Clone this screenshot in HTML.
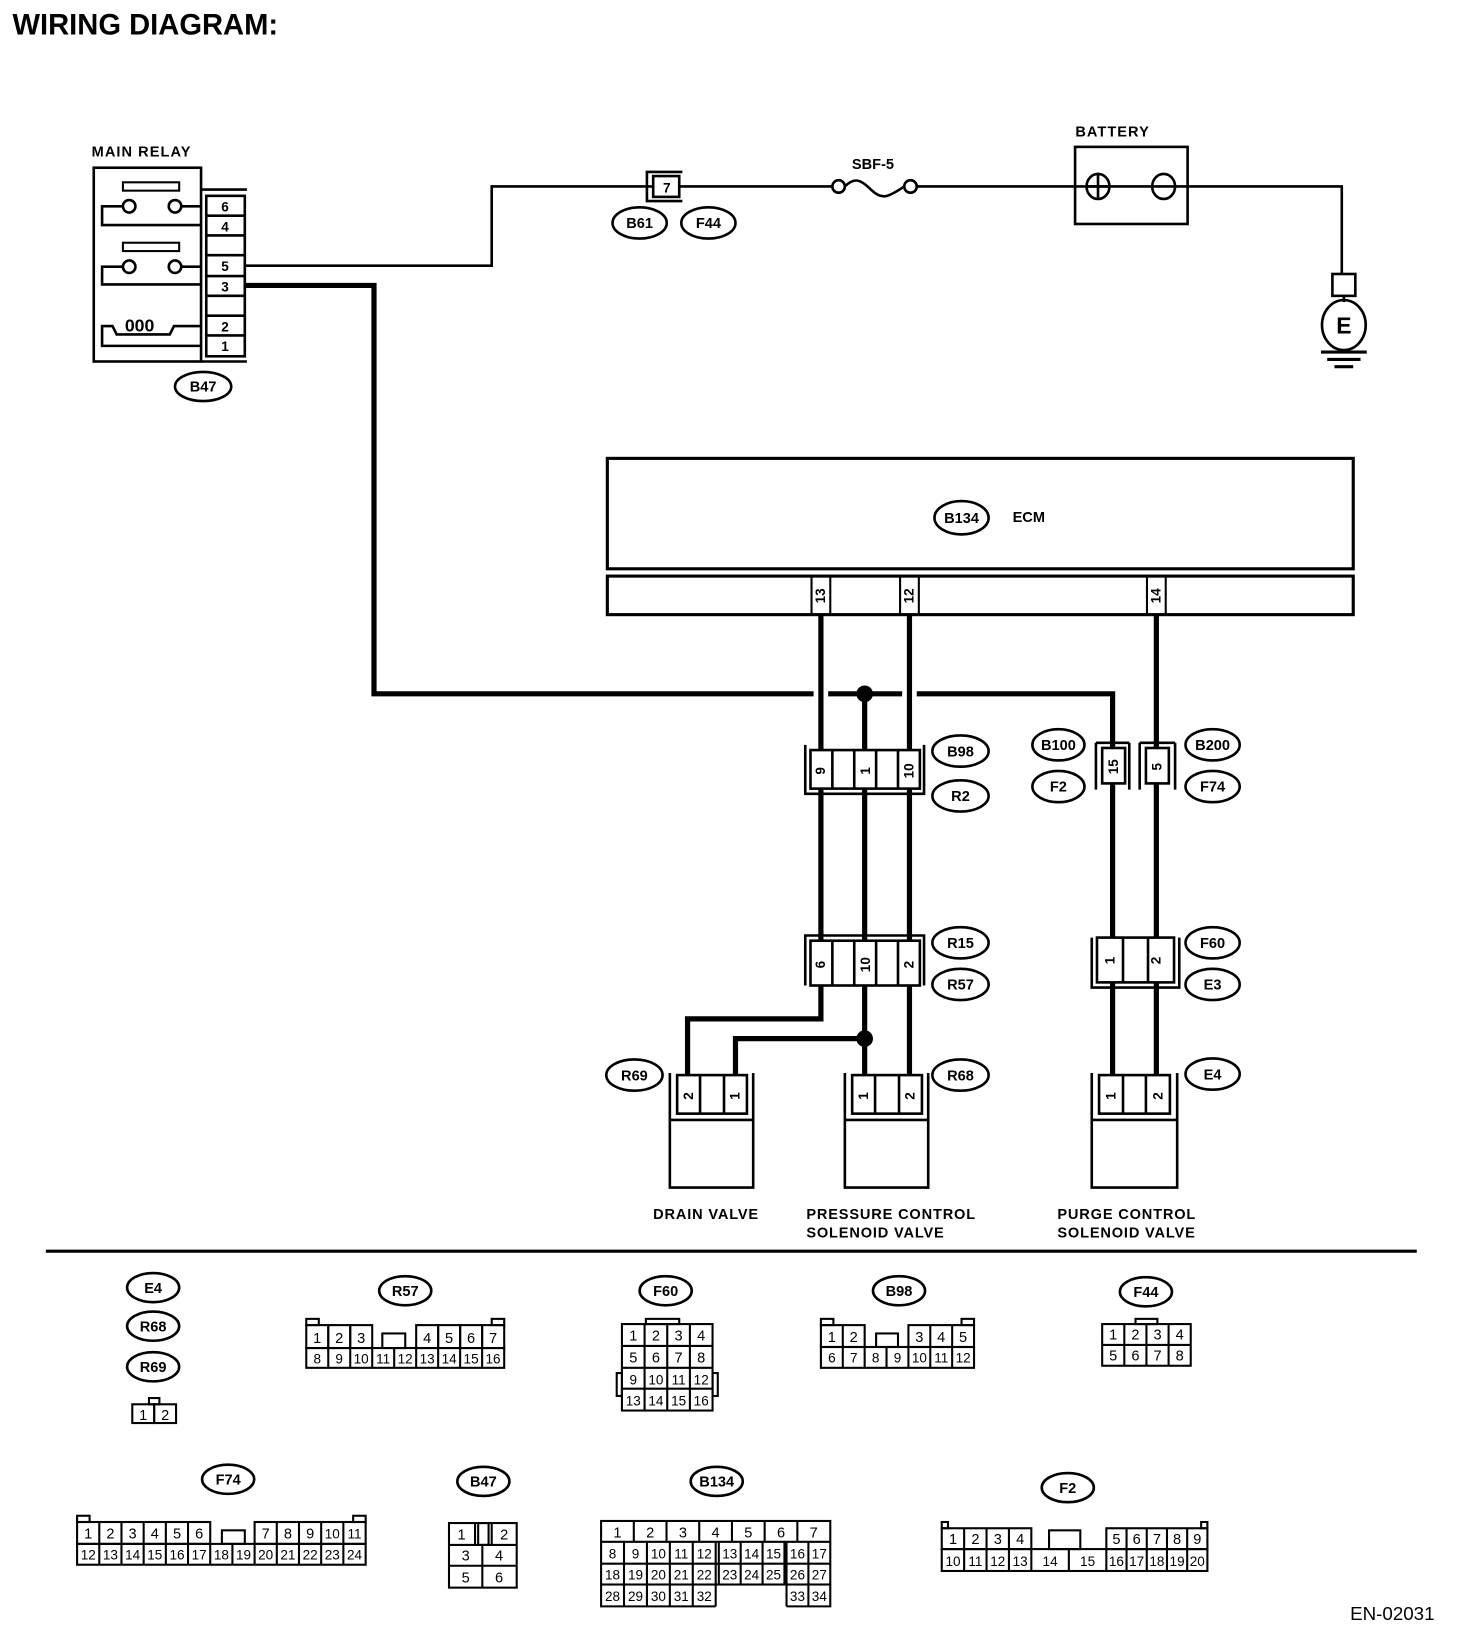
<!DOCTYPE html>
<html><head><meta charset="utf-8"><style>
html,body{margin:0;padding:0;background:#fff}
svg{display:block}
text{font-family:"Liberation Sans",sans-serif}
.b{font-weight:bold}
.l{font-weight:bold;font-size:14px;text-anchor:middle}
.p{font-size:14px;text-anchor:middle}
.r{font-weight:bold;font-size:13px;text-anchor:middle}
</style></head><body>
<svg width="1472" height="1634" viewBox="0 0 1413 1568.5" xmlns="http://www.w3.org/2000/svg">
<text x="12" y="33" class="b" font-size="28">WIRING DIAGRAM:</text>

<text x="88" y="150" class="b" font-size="14" letter-spacing="1">MAIN RELAY</text>
<g fill="none" stroke="#000" stroke-width="2.5">
<rect x="90" y="161" width="103" height="186"/>
<line x1="193" y1="182" x2="237" y2="182"/>
<line x1="193" y1="347" x2="237" y2="347"/>
<rect x="198" y="188" width="37" height="154"/>
<line x1="198" y1="207" x2="235" y2="207"/><line x1="198" y1="226" x2="235" y2="226"/>
<line x1="198" y1="245" x2="235" y2="245"/><line x1="198" y1="265" x2="235" y2="265"/>
<line x1="198" y1="284" x2="235" y2="284"/><line x1="198" y1="303" x2="235" y2="303"/>
<line x1="198" y1="322" x2="235" y2="322"/>
<rect x="118" y="175" width="54" height="8" stroke-width="2"/>
<circle cx="124" cy="198" r="6"/><circle cx="168" cy="198" r="6"/>
<path d="M118 198 H98 V216 H193 M174 198 H193"/>
<rect x="118" y="233" width="54" height="8" stroke-width="2"/>
<circle cx="124" cy="256" r="6"/><circle cx="168" cy="256" r="6"/>
<path d="M118 256 H98 V273 H193 M174 256 H193"/>
<path d="M193 313 H167 L163 321 H112 L108 313 H98 V332 H193"/>
</g>
<g class="r"><text x="216" y="203">6</text><text x="216" y="222">4</text><text x="216" y="260">5</text><text x="216" y="280">3</text><text x="216" y="318">2</text><text x="216" y="337">1</text></g>
<text x="134" y="318" class="b" font-size="17" text-anchor="middle">000</text>
<ellipse cx="195" cy="371" rx="27" ry="14" fill="none" stroke="#000" stroke-width="2.5"/>
<text x="195" y="376" class="l">B47</text>

<g fill="none" stroke="#000" stroke-width="2.5">
<path d="M235 255 H472 V179 H626 M652 179 H800"/>
<path d="M880 179 H1288 V262"/>
<path d="M655 165 H621 V193 H655"/>
<rect x="627" y="169" width="25" height="20"/>
<circle cx="805" cy="179" r="6"/><circle cx="874" cy="179" r="6"/>
<path d="M811 179 C820 170 826 172 836 182 C846 192 852 190 868 179"/>
<rect x="1032" y="141" width="108" height="74"/>
<ellipse cx="1054" cy="179" rx="11" ry="12"/><line x1="1043" y1="179" x2="1065" y2="179"/><line x1="1054" y1="167" x2="1054" y2="191"/>
<ellipse cx="1117" cy="179" rx="11" ry="12"/>
<rect x="1279" y="263" width="22" height="21"/>
<line x1="1290" y1="284" x2="1290" y2="290"/>
<ellipse cx="1290" cy="312" rx="21" ry="24"/>
</g>
<text x="640" y="185" class="r">7</text>
<g fill="none" stroke="#000" stroke-width="2.5">
<ellipse cx="614" cy="214" rx="26" ry="15"/><ellipse cx="680" cy="214" rx="26" ry="15"/>
</g>
<text x="614" y="219" class="l">B61</text><text x="680" y="219" class="l">F44</text>
<text x="838" y="162" class="b" font-size="14" text-anchor="middle">SBF-5</text>
<text x="1068" y="131" class="b" font-size="14" text-anchor="middle" letter-spacing="1">BATTERY</text>
<text x="1290" y="320" class="b" font-size="22" text-anchor="middle">E</text>
<g stroke="#000" stroke-width="3"><line x1="1268" y1="338" x2="1312" y2="338"/><line x1="1274" y1="345" x2="1306" y2="345"/><line x1="1281" y1="352" x2="1299" y2="352"/></g>

<g fill="none" stroke="#000" stroke-width="3">
<rect x="583" y="440" width="716" height="106"/>
<rect x="583" y="553" width="716" height="37"/>
</g>
<g fill="none" stroke="#000" stroke-width="2">
<rect x="779" y="553" width="18" height="37"/><rect x="864" y="553" width="18" height="37"/><rect x="1101" y="553" width="18" height="37"/>
</g>
<g class="r" font-size="12"><text transform="translate(792,572) rotate(-90)">13</text><text transform="translate(877,572) rotate(-90)">12</text><text transform="translate(1114,572) rotate(-90)">14</text></g>
<ellipse cx="923" cy="497" rx="26" ry="16" fill="none" stroke="#000" stroke-width="2.5"/>
<text x="923" y="502" class="l">B134</text>
<text x="972" y="501" class="b" font-size="14">ECM</text>

<g fill="none" stroke="#000" stroke-width="5">
<path d="M235 274 H359 V666 H781"/>
<path d="M795 666 H866"/>
<path d="M880 666 H1068 V718"/>
<path d="M788 590 V720 M873 590 V720 M830 666 V720 M1110 590 V718"/>
<path d="M788 757 V903 M830 757 V903 M873 757 V903"/>
<path d="M1068 752 V900 M1110 752 V900"/>
<path d="M788 946 V978 H660 V1032"/>
<path d="M830 946 V1032 M830 997 H706 V1032"/>
<path d="M873 946 V1032"/>
<path d="M1068 943 V1032 M1110 943 V1032"/>
</g>
<circle cx="830" cy="666" r="8"/><circle cx="830" cy="997" r="8"/>

<g fill="none" stroke="#000" stroke-width="2.5">
<path d="M773 715 V762 H887 V715"/><rect x="778" y="720" width="105" height="37"/>
<line x1="799" y1="720" x2="799" y2="757"/><line x1="820" y1="720" x2="820" y2="757"/><line x1="841" y1="720" x2="841" y2="757"/><line x1="862" y1="720" x2="862" y2="757"/>
<path d="M773 946 V898 H887 V946"/><rect x="778" y="903" width="105" height="43"/>
<line x1="799" y1="903" x2="799" y2="946"/><line x1="820" y1="903" x2="820" y2="946"/><line x1="841" y1="903" x2="841" y2="946"/><line x1="862" y1="903" x2="862" y2="946"/>
<path d="M1052 713 V758 M1084 713 V758 M1052 713 H1084"/><rect x="1058" y="718" width="22" height="34"/>
<path d="M1094 713 V758 M1128 713 V758 M1094 713 H1128"/><rect x="1100" y="718" width="22" height="34"/>
<path d="M1048 900 V948 H1132 V900"/><rect x="1053" y="900" width="74" height="43"/>
<line x1="1078" y1="900" x2="1078" y2="943"/><line x1="1102" y1="900" x2="1102" y2="943"/>
</g>
<g class="r">
<text transform="translate(792,740) rotate(-90)">9</text><text transform="translate(835,740) rotate(-90)">1</text><text transform="translate(877,740) rotate(-90)">10</text>
<text transform="translate(792,926) rotate(-90)">6</text><text transform="translate(835,926) rotate(-90)">10</text><text transform="translate(877,926) rotate(-90)">2</text>
<text transform="translate(1073,736) rotate(-90)">15</text><text transform="translate(1115,736) rotate(-90)">5</text>
<text transform="translate(1070,922) rotate(-90)">1</text><text transform="translate(1114,922) rotate(-90)">2</text>
</g>
<g fill="none" stroke="#000" stroke-width="2.5">
<ellipse cx="922" cy="721" rx="27" ry="15"/><ellipse cx="922" cy="764" rx="27" ry="15"/>
<ellipse cx="1016" cy="715" rx="25" ry="15"/><ellipse cx="1016" cy="755" rx="25" ry="15"/>
<ellipse cx="1164" cy="715" rx="26" ry="15"/><ellipse cx="1164" cy="755" rx="26" ry="15"/>
<ellipse cx="922" cy="905" rx="27" ry="15"/><ellipse cx="922" cy="945" rx="27" ry="15"/>
<ellipse cx="1164" cy="905" rx="26" ry="15"/><ellipse cx="1164" cy="945" rx="26" ry="15"/>
<ellipse cx="609" cy="1032" rx="27" ry="15"/><ellipse cx="922" cy="1032" rx="27" ry="15"/><ellipse cx="1164" cy="1031" rx="26" ry="15"/>
</g>
<g class="l">
<text x="922" y="726">B98</text><text x="922" y="769">R2</text><text x="1016" y="720">B100</text><text x="1016" y="760">F2</text>
<text x="1164" y="720">B200</text><text x="1164" y="760">F74</text><text x="922" y="910">R15</text><text x="922" y="950">R57</text>
<text x="1164" y="910">F60</text><text x="1164" y="950">E3</text><text x="609" y="1037">R69</text><text x="922" y="1037">R68</text><text x="1164" y="1036">E4</text>
</g>

<g fill="none" stroke="#000" stroke-width="2.5">
<path d="M643 1030 V1140 H723 V1030 M643 1075 H723"/><rect x="650" y="1032" width="67" height="37"/><line x1="672" y1="1032" x2="672" y2="1069"/><line x1="695" y1="1032" x2="695" y2="1069"/>
<path d="M811 1030 V1140 H891 V1030 M811 1075 H891"/><rect x="818" y="1032" width="67" height="37"/><line x1="840" y1="1032" x2="840" y2="1069"/><line x1="863" y1="1032" x2="863" y2="1069"/>
<path d="M1048 1030 V1140 H1130 V1030 M1048 1075 H1130"/><rect x="1055" y="1032" width="68" height="37"/><line x1="1078" y1="1032" x2="1078" y2="1069"/><line x1="1100" y1="1032" x2="1100" y2="1069"/>
</g>
<g class="r">
<text transform="translate(665,1052) rotate(-90)">2</text><text transform="translate(710,1052) rotate(-90)">1</text>
<text transform="translate(833,1052) rotate(-90)">1</text><text transform="translate(878,1052) rotate(-90)">2</text>
<text transform="translate(1071,1052) rotate(-90)">1</text><text transform="translate(1116,1052) rotate(-90)">2</text>
</g>
<g class="b" font-size="14" letter-spacing="0.8">
<text x="627" y="1170">DRAIN VALVE</text>
<text x="774" y="1170">PRESSURE CONTROL</text><text x="774" y="1188">SOLENOID VALVE</text>
<text x="1015" y="1170">PURGE CONTROL</text><text x="1015" y="1188">SOLENOID VALVE</text>
</g>
<line x1="44" y1="1201" x2="1360" y2="1201" stroke="#000" stroke-width="3"/>

<g fill="none" stroke="#000" stroke-width="2.5">
<ellipse cx="147" cy="1236" rx="25" ry="14"/><ellipse cx="147" cy="1273" rx="25" ry="14"/><ellipse cx="147" cy="1312" rx="25" ry="14"/>
<ellipse cx="389" cy="1239" rx="25" ry="14"/><ellipse cx="639" cy="1239" rx="25" ry="14"/><ellipse cx="863" cy="1239" rx="25" ry="14"/>
<ellipse cx="1100" cy="1240" rx="25" ry="14"/><ellipse cx="219" cy="1420" rx="25" ry="14"/><ellipse cx="464" cy="1422" rx="25" ry="14"/>
<ellipse cx="688" cy="1422" rx="25" ry="14"/><ellipse cx="1025" cy="1428" rx="25" ry="14"/>
</g>
<g class="l">
<text x="147" y="1241">E4</text><text x="147" y="1278">R68</text><text x="147" y="1317">R69</text>
<text x="389" y="1244">R57</text><text x="639" y="1244">F60</text><text x="863" y="1244">B98</text><text x="1100" y="1245">F44</text>
<text x="219" y="1425">F74</text><text x="464" y="1427">B47</text><text x="688" y="1427">B134</text><text x="1025" y="1433">F2</text>
</g>

<g fill="none" stroke="#000" stroke-width="2">
<rect x="143" y="1342" width="10" height="6"/>
<rect x="127" y="1348" width="21" height="18"/><rect x="148" y="1348" width="21" height="18"/>
<rect x="294" y="1266" width="12" height="6"/><rect x="472" y="1266" width="12" height="6"/><rect x="367" y="1280" width="22" height="14"/>
<rect x="294" y="1272" width="21.1" height="22"/><rect x="315.1" y="1272" width="21.1" height="22"/><rect x="336.2" y="1272" width="21.1" height="22"/>
<rect x="399.5" y="1272" width="21.1" height="22"/><rect x="420.6" y="1272" width="21.1" height="22"/><rect x="441.7" y="1272" width="21.1" height="22"/><rect x="462.8" y="1272" width="21.2" height="22"/>
<rect x="294" y="1294" width="190" height="19"/>
<path d="M315.1 1294 V1313 M336.2 1294 V1313 M357.3 1294 V1313 M378.4 1294 V1313 M399.5 1294 V1313 M420.6 1294 V1313 M441.7 1294 V1313 M462.8 1294 V1313"/>
<rect x="620" y="1266" width="32" height="5"/><rect x="592" y="1318" width="5" height="22"/><rect x="684" y="1318" width="5" height="22"/>
<rect x="597" y="1271" width="87" height="83"/>
<path d="M618.75 1271 V1354 M640.5 1271 V1354 M662.25 1271 V1354 M597 1292 H684 M597 1313 H684 M597 1333 H684"/>
<rect x="788" y="1266" width="12" height="6"/><rect x="923" y="1266" width="12" height="6"/><rect x="841" y="1280" width="21" height="13"/>
<rect x="788" y="1272" width="42" height="21"/><line x1="809" y1="1272" x2="809" y2="1293"/>
<rect x="872" y="1272" width="63" height="21"/><line x1="893" y1="1272" x2="893" y2="1293"/><line x1="914" y1="1272" x2="914" y2="1293"/>
<rect x="788" y="1293" width="147" height="20"/>
<path d="M809 1293 V1313 M830 1293 V1313 M851 1293 V1313 M872 1293 V1313 M893 1293 V1313 M914 1293 V1313"/>
<rect x="1090" y="1266" width="21" height="5"/>
<rect x="1058" y="1271" width="85" height="40"/>
<path d="M1079.25 1271 V1311 M1100.5 1271 V1311 M1121.75 1271 V1311 M1058 1291 H1143"/>
<rect x="74" y="1455" width="12" height="6"/><rect x="339" y="1455" width="12" height="6"/><rect x="213" y="1469" width="22" height="13"/>
<rect x="74" y="1461" width="127.8" height="21"/><path d="M95.3 1461 V1482 M116.6 1461 V1482 M137.9 1461 V1482 M159.2 1461 V1482 M180.5 1461 V1482"/>
<rect x="244.4" y="1461" width="106.6" height="21"/><path d="M265.7 1461 V1482 M287 1461 V1482 M308.3 1461 V1482 M329.6 1461 V1482"/>
<rect x="74" y="1482" width="277" height="20"/>
<path d="M95.3 1482 V1502 M116.6 1482 V1502 M137.9 1482 V1502 M159.2 1482 V1502 M180.5 1482 V1502 M201.8 1482 V1502 M223.1 1482 V1502 M244.4 1482 V1502 M265.7 1482 V1502 M287 1482 V1502 M308.3 1482 V1502 M329.6 1482 V1502"/>
<rect x="431" y="1462" width="65" height="62"/>
<path d="M456 1462 V1483 M472 1462 V1483 M431 1483 H496 M431 1503 H496 M463 1483 V1524"/>
<rect x="459" y="1462" width="10" height="21"/>
<rect x="577" y="1460" width="220" height="61"/>
<path d="M608.4 1460 V1480 M639.8 1460 V1480 M671.2 1460 V1480 M702.6 1460 V1480 M734 1460 V1480 M765.4 1460 V1480 M577 1480 H797 M577 1501 H797"/>
<path d="M599 1480 V1542 M621 1480 V1542 M643 1480 V1542 M665 1480 V1542 M687 1480 V1542 M690 1480 V1521 M711 1480 V1521 M732 1480 V1521 M753 1480 V1521 M755 1480 V1542 M776 1480 V1542"/>
<path d="M577 1521 V1542 H687 M755 1542 H797 V1521"/>
<rect x="904" y="1461" width="6" height="6"/><rect x="1153" y="1461" width="6" height="6"/>
<rect x="1007" y="1469" width="30" height="18"/>
<rect x="904" y="1467" width="86" height="20"/><path d="M925.5 1467 V1487 M947 1467 V1487 M968.5 1467 V1487"/>
<rect x="1062" y="1467" width="97" height="20"/><path d="M1081.4 1467 V1487 M1100.8 1467 V1487 M1120.2 1467 V1487 M1139.6 1467 V1487"/>
<rect x="904" y="1487" width="255" height="21"/>
<path d="M925.5 1487 V1508 M947 1487 V1508 M968.5 1487 V1508 M990 1487 V1508 M1026 1487 V1508 M1062 1487 V1508 M1081.4 1487 V1508 M1100.8 1487 V1508 M1120.2 1487 V1508 M1139.6 1487 V1508"/>
</g>

<g class="p">
<text x="137.5" y="1363">1</text><text x="158.5" y="1363">2</text>
<text x="304.5" y="1289">1</text><text x="325.6" y="1289">2</text><text x="346.7" y="1289">3</text><text x="410" y="1289">4</text><text x="431.1" y="1289">5</text><text x="452.2" y="1289">6</text><text x="473.3" y="1289">7</text>
<g font-size="13"><text x="304.5" y="1309">8</text><text x="325.6" y="1309">9</text><text x="346.7" y="1309">10</text><text x="367.8" y="1309">11</text><text x="388.9" y="1309">12</text><text x="410" y="1309">13</text><text x="431.1" y="1309">14</text><text x="452.2" y="1309">15</text><text x="473.3" y="1309">16</text></g>
<text x="607.9" y="1287">1</text><text x="629.6" y="1287">2</text><text x="651.4" y="1287">3</text><text x="673.1" y="1287">4</text>
<text x="607.9" y="1308">5</text><text x="629.6" y="1308">6</text><text x="651.4" y="1308">7</text><text x="673.1" y="1308">8</text>
<g font-size="13"><text x="607.9" y="1329">9</text><text x="629.6" y="1329">10</text><text x="651.4" y="1329">11</text><text x="673.1" y="1329">12</text>
<text x="607.9" y="1349">13</text><text x="629.6" y="1349">14</text><text x="651.4" y="1349">15</text><text x="673.1" y="1349">16</text></g>
<text x="798.5" y="1288">1</text><text x="819.5" y="1288">2</text><text x="882.5" y="1288">3</text><text x="903.5" y="1288">4</text><text x="924.5" y="1288">5</text>
<g font-size="13"><text x="798.5" y="1308">6</text><text x="819.5" y="1308">7</text><text x="840.5" y="1308">8</text><text x="861.5" y="1308">9</text><text x="882.5" y="1308">10</text><text x="903.5" y="1308">11</text><text x="924.5" y="1308">12</text></g>
<text x="1068.6" y="1286">1</text><text x="1089.9" y="1286">2</text><text x="1111.1" y="1286">3</text><text x="1132.4" y="1286">4</text>
<text x="1068.6" y="1306">5</text><text x="1089.9" y="1306">6</text><text x="1111.1" y="1306">7</text><text x="1132.4" y="1306">8</text>
<text x="84.7" y="1477">1</text><text x="106" y="1477">2</text><text x="127.3" y="1477">3</text><text x="148.6" y="1477">4</text><text x="169.9" y="1477">5</text><text x="191.2" y="1477">6</text>
<text x="255" y="1477">7</text><text x="276.4" y="1477">8</text><text x="297.7" y="1477">9</text><text x="319" y="1477" font-size="13">10</text><text x="340.3" y="1477" font-size="13">11</text>
<g font-size="13"><text x="84.7" y="1497">12</text><text x="106" y="1497">13</text><text x="127.3" y="1497">14</text><text x="148.6" y="1497">15</text><text x="169.9" y="1497">16</text><text x="191.2" y="1497">17</text><text x="212.5" y="1497">18</text><text x="233.8" y="1497">19</text><text x="255" y="1497">20</text><text x="276.4" y="1497">21</text><text x="297.7" y="1497">22</text><text x="319" y="1497">23</text><text x="340.3" y="1497">24</text></g>
<text x="443" y="1478">1</text><text x="484" y="1478">2</text><text x="447" y="1498">3</text><text x="479" y="1498">4</text><text x="447" y="1519">5</text><text x="479" y="1519">6</text>
<text x="592.7" y="1476">1</text><text x="624.1" y="1476">2</text><text x="655.5" y="1476">3</text><text x="686.9" y="1476">4</text><text x="718.3" y="1476">5</text><text x="749.7" y="1476">6</text><text x="781.1" y="1476">7</text>
<g font-size="13"><text x="588" y="1496">8</text><text x="610" y="1496">9</text><text x="632" y="1496">10</text><text x="654" y="1496">11</text><text x="676" y="1496">12</text><text x="700.5" y="1496">13</text><text x="721.5" y="1496">14</text><text x="742.5" y="1496">15</text><text x="765.5" y="1496">16</text><text x="786.5" y="1496">17</text>
<text x="588" y="1516">18</text><text x="610" y="1516">19</text><text x="632" y="1516">20</text><text x="654" y="1516">21</text><text x="676" y="1516">22</text><text x="700.5" y="1516">23</text><text x="721.5" y="1516">24</text><text x="742.5" y="1516">25</text><text x="765.5" y="1516">26</text><text x="786.5" y="1516">27</text>
<text x="588" y="1537">28</text><text x="610" y="1537">29</text><text x="632" y="1537">30</text><text x="654" y="1537">31</text><text x="676" y="1537">32</text><text x="765.5" y="1537">33</text><text x="786.5" y="1537">34</text></g>
<text x="914.8" y="1482">1</text><text x="936.3" y="1482">2</text><text x="957.8" y="1482">3</text><text x="979.3" y="1482">4</text>
<text x="1071.7" y="1482">5</text><text x="1091.1" y="1482">6</text><text x="1110.5" y="1482">7</text><text x="1129.9" y="1482">8</text><text x="1149.3" y="1482">9</text>
<g font-size="13"><text x="914.8" y="1503">10</text><text x="936.3" y="1503">11</text><text x="957.8" y="1503">12</text><text x="979.3" y="1503">13</text><text x="1008" y="1503">14</text><text x="1044" y="1503">15</text>
<text x="1071.7" y="1503">16</text><text x="1091.1" y="1503">17</text><text x="1110.5" y="1503">18</text><text x="1129.9" y="1503">19</text><text x="1149.3" y="1503">20</text></g>
</g>
<text x="1296" y="1555" font-size="18">EN-02031</text>
</svg>
</body></html>
